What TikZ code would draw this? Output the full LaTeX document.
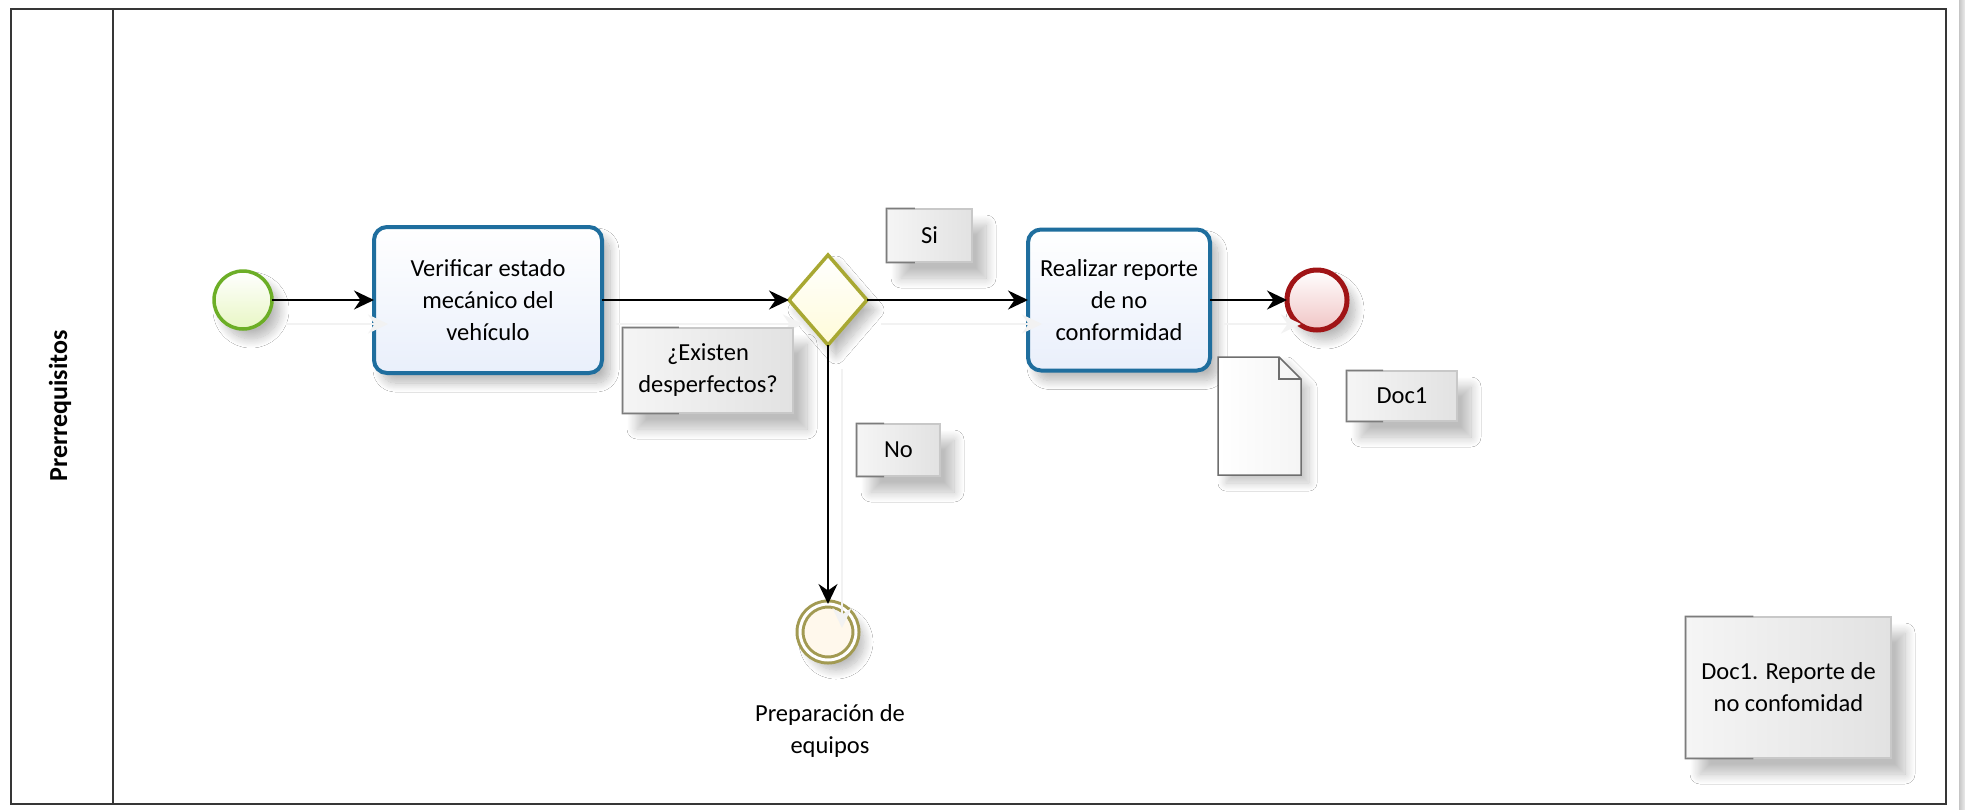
\documentclass[tikz,border=0pt]{standalone}
\usepackage{fontspec}
\setmainfont{Carlito}
\usetikzlibrary{shapes.geometric,arrows.meta,shadows.blur,calc}

\definecolor{laneline}{HTML}{363636}
\definecolor{taskline}{HTML}{1F6E9E}
\definecolor{taskfill}{HTML}{E9EFFB}
\definecolor{startline}{HTML}{6CAE26}
\definecolor{startfill}{HTML}{E8F6C4}
\definecolor{gateline}{HTML}{A8A832}
\definecolor{gatefill}{HTML}{FFFBD8}
\definecolor{endline}{HTML}{A01416}
\definecolor{endfill}{HTML}{F0C4C4}
\definecolor{midline}{HTML}{A29A52}
\definecolor{midfill}{HTML}{FFF8EC}
\definecolor{notetop}{HTML}{F5F5F5}
\definecolor{notebot}{HTML}{E2E2E2}
\definecolor{noteline}{HTML}{C8C8C8}
\definecolor{noteedge}{HTML}{7C7C7C}
\definecolor{docline}{HTML}{6E6E6E}

\tikzset{
  txt/.style={font=\fontsize{24.5}{32}\selectfont, align=center, text=black},
  softshadow/.style={blur shadow={shadow xshift=8pt, shadow yshift=-10pt,
      shadow opacity=28, shadow blur steps=14, shadow blur radius=9pt}},
  wideshadow/.style={blur shadow={shadow xshift=14pt, shadow yshift=-16pt,
      shadow opacity=26, shadow blur steps=14, shadow blur radius=10pt}},
  task/.style={txt, rectangle, rounded corners=13pt, draw=taskline,
      line width=4pt, top color=white, bottom color=taskfill, inner sep=0pt,
      outer sep=0pt, softshadow},
  startev/.style={circle, draw=startline, line width=3.5pt, minimum size=58pt,
      inner sep=0pt, outer sep=0pt, top color=white, bottom color=startfill,
      softshadow},
  endev/.style={circle, draw=endline, line width=5pt, minimum size=60pt,
      inner sep=0pt, outer sep=0pt, top color=white, bottom color=endfill,
      softshadow},
  midev/.style={circle, draw=midline, double=white, double distance=3pt,
      line width=3pt, minimum size=56pt, inner sep=0pt, outer sep=0pt,
      fill=midfill, softshadow},
  gate/.style={diamond, draw=gateline, line width=3.5pt, minimum width=78pt,
      minimum height=90pt, inner sep=0pt, outer sep=0pt, top color=white,
      bottom color=gatefill, softshadow},
  note/.style={txt, rectangle, draw=noteline, line width=1.2pt, inner sep=0pt,
      left color=notetop, right color=notebot, wideshadow},
  flow/.style={line width=2pt, draw=black,
      -{Stealth[length=20pt,width=19pt]},
      preaction={draw=black!5, line width=2pt,
        transform canvas={shift={(14pt,-24pt)}}}}
}

\begin{document}
\begin{tikzpicture}[x=1pt,y=-1pt]
  \useasboundingbox (0,0) rectangle (1965,809);
  \fill[white] (0,0) rectangle (1965,809);

  % window edge on the right
  \shade[left color=gray!45, right color=gray!15] (1959,0) rectangle (1965,809);

  % pool and lane
  \draw[laneline, line width=2.5pt] (11,9) rectangle (1946,804);
  \draw[laneline, line width=2.5pt] (113,9) -- (113,804);
  \node[font=\fontsize{26}{30}\selectfont\bfseries, rotate=90] (lane) at (60,406) {Prerrequisitos};

  % flow objects
  \node[startev] (start) at (243,300) {};
  \node[task, minimum width=228pt, minimum height=146pt] (verify) at (488,300)
      {Verificar estado\\mecánico del\\vehículo};
  \node[gate] (gw) at (828,300) {};
  \node[task, minimum width=182pt, minimum height=141pt] (report) at (1119,300)
      {Realizar reporte\\de no\\conformidad};
  \node[endev] (end) at (1317,300) {};
  \node[midev] (prep) at (828,632) {};
  \node[txt] (preplabel) at (830,731) {Preparación de\\equipos};

  % data object
  \draw[docline, line width=1.5pt, left color=white, right color=gray!8,
        blur shadow={shadow xshift=8pt, shadow yshift=-8pt, shadow opacity=22,
        shadow blur steps=12, shadow blur radius=8pt}]
    (1218,357) -- (1279,357) -- (1301,379) -- (1301,475) -- (1218,475) -- cycle;
  \draw[docline, line width=1.5pt] (1279,357) -- (1279,379) -- (1301,379);

  % sequence flows
  \draw[flow] (start) -- (verify);
  \draw[flow] (verify) -- (gw);
  \draw[flow] (gw.east) -- (report.west);
  \draw[flow] (report) -- (end);
  \draw[flow] (gw.south) -- (prep.north);

  % text annotations
  \node[note, minimum width=85pt, minimum height=53pt] (si) at (929.5,235.5) {Si};
  \node[note, minimum width=170pt, minimum height=85pt] (ex) at (708,370.5)
      {¿Existen\\desperfectos?};
  \node[note, minimum width=83pt, minimum height=52pt] (no) at (898.5,450) {No};
  \node[note, minimum width=110pt, minimum height=50pt] (doc) at (1402,396) {Doc1};
  \node[note, minimum width=205pt, minimum height=141pt] (legend) at (1788.5,687.5)
      {Doc1. Reporte de\\no confomidad};

  \foreach \n in {si,ex,no,doc,legend}
    \draw[noteedge, line width=1.5pt]
      ($(\n.north west)!0.33!(\n.north east)$) -- (\n.north west)
      -- (\n.south west) -- ($(\n.south west)!0.33!(\n.south east)$);
\end{tikzpicture}
\end{document}
